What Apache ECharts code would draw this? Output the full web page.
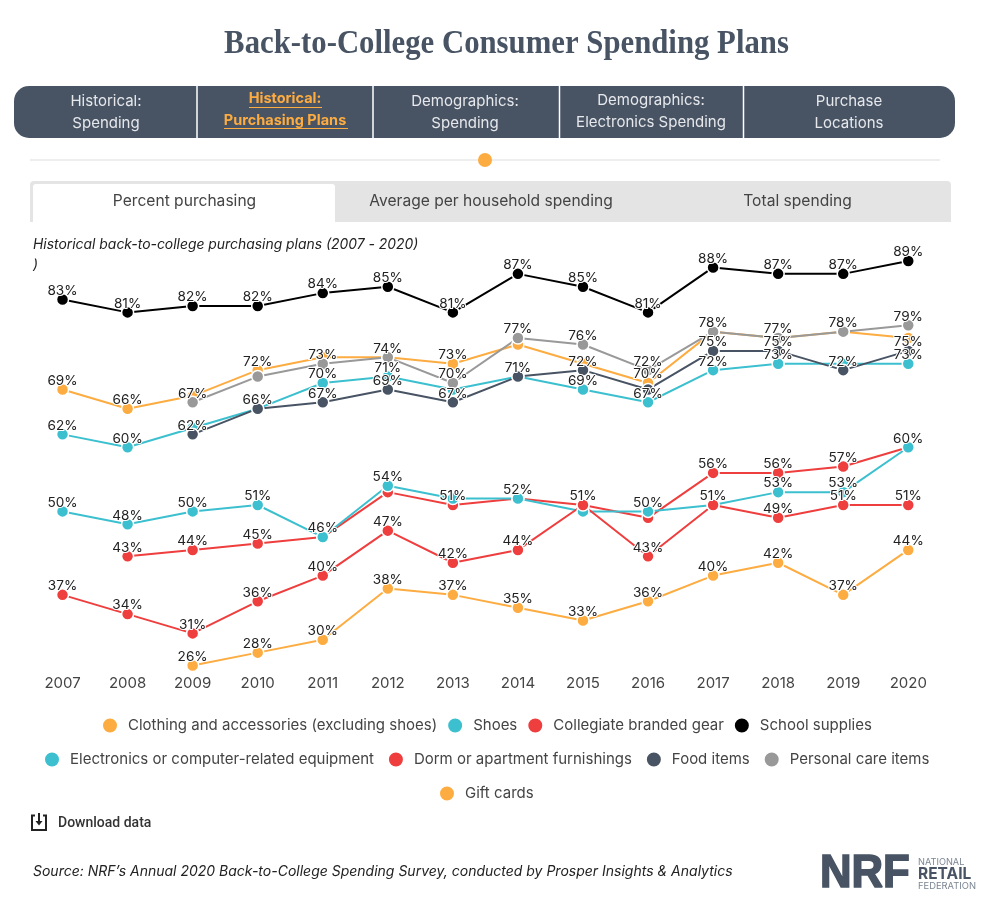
<!DOCTYPE html>
<html><head><meta charset="utf-8">
<style>html,body{margin:0;padding:0;background:#fff}#c{width:981px;height:900px}</style>
<script src="https://cdn.jsdelivr.net/npm/echarts@6/dist/echarts.min.js"></script>
</head><body><div id="c"></div>
<script>
const years = ['2007','2008','2009','2010','2011','2012','2013','2014','2015','2016','2017','2018','2019','2020'];
const clothing    = [69,66,68,72,74,74,73,76,73,70,78,77,78,77];
const shoes       = [62,60,63,66,70,71,69,71,69,67,72,73,73,73];
const collegiate  = [null,43,44,45,46,53,51,52,51,49,56,56,57,60];
const school      = [83,81,82,82,84,85,81,87,85,81,88,87,87,89];
const electronics = [50,48,50,51,46,54,52,52,50,50,51,53,53,60];
const dorm        = [37,34,31,36,40,47,42,44,51,43,51,49,51,51];
const food        = [null,null,62,66,67,69,67,71,72,69,75,75,72,75];
const personal    = [null,null,67,71,73,74,70,77,76,72,78,77,78,79];
const gift        = [null,null,26,28,30,38,37,35,33,36,40,42,37,44];
// years whose value label the reference suppresses because it collides with another
const hideClothing    = ['2009','2011','2012','2014','2015','2017','2018','2019','2020'];
const hideShoes       = ['2009','2010','2013','2014','2019'];
const hideCollegiate  = ['2011','2012','2014','2015','2016','2020'];
const hideElectronics = ['2013','2015','2017'];
const hideFood        = ['2016'];
const hidePersonal    = ['2010'];
const C = {orange:'#FDAC41',teal:'#3CC0CF',red:'#EF3E3E',black:'#000000',slate:'#485464',gray:'#999999'};
const F = 'Inter, "Open Sans", sans-serif';
const mk = (name,vals,color,hide=[]) => ({
  name,type:'line',color,symbol:'circle',symbolSize:12,showSymbol:true,animation:false,
  lineStyle:{color,width:2},itemStyle:{color,borderColor:'#fff',borderWidth:1.5},
  emphasis:{disabled:true},
  label:{show:true,position:'top',distance:2,offset:[0,7],formatter:'{c}%',fontFamily:F,fontSize:13.6,color:'#222',textBorderColor:'#fff',textBorderWidth:2},
  data:vals.map((v,i)=>({value:v,label:{show:v!==null&&!hide.includes(years[i])}}))
});
const series = [
  mk('Clothing and accessories (excluding shoes)',clothing,C.orange,hideClothing),
  mk('Shoes',shoes,C.teal,hideShoes),
  mk('Collegiate branded gear',collegiate,C.red,hideCollegiate),
  mk('School supplies',school,C.black),
  mk('Electronics or computer-related equipment',electronics,C.teal,hideElectronics),
  mk('Dorm or apartment furnishings',dorm,C.red),
  mk('Food items',food,C.slate,hideFood),
  mk('Personal care items',personal,C.gray,hidePersonal),
  mk('Gift cards',gift,C.orange)
];
const rows = [series.slice(0,4),series.slice(4,8),series.slice(8)];
const leg = (r,top,left,gap)=>({data:r.map(s=>s.name),top,left,icon:'circle',itemWidth:16,itemHeight:16,itemGap:gap,
  textStyle:{fontFamily:F,fontSize:15,color:'#444',padding:[0,0,0,5]},selectedMode:false,padding:0});
const T=(text,x,y,font,fill,align='center',extra={},sty={})=>({type:'text',x,y,silent:true,z:10,...extra,style:{text,x:0,y:0,font,fill,textAlign:align,textVerticalAlign:'middle',...sty}});
const R=(x,y,w,h,fill,r=0)=>({type:'rect',silent:true,z:1,shape:{x,y,width:w,height:h,r},style:{fill}});
const L=(x1,y1,x2,y2,stroke,lw)=>({type:'line',silent:true,z:5,shape:{x1,y1,x2,y2},style:{stroke,lineWidth:lw}});
const nav='15px '+F, tab='15.6px '+F, W='#e6e8ec';
const graphic=[
  T('Back-to-College Consumer Spending Plans',506.5,44,'bold 33px "Liberation Serif"',C.slate,'center',{scaleX:0.932}),
  R(14,86,941,52,C.slate,15),
  L(197,86,197,138,'#fff',1.5),L(373,86,373,138,'#fff',1.5),L(559.5,86,559.5,138,'#fff',1.5),L(743.5,86,743.5,138,'#fff',1.5),
  T('Historical:',106,101,nav,W),T('Spending',106,123,nav,W),
  T('Historical:',285,99,'bold 14.5px '+F,C.orange),T('Purchasing Plans',285,121,'bold 14.5px '+F,C.orange),
  L(249,107.5,322,107.5,C.orange,1.2),L(224,128.5,348,128.5,C.orange,1.2),
  T('Demographics:',465,101,nav,W),T('Spending',465,123,nav,W),
  T('Demographics:',651,100,nav,W),T('Electronics Spending',651,122,nav,W),
  T('Purchase',849,101,nav,W),T('Locations',849,123,nav,W),
  L(30,160,940,160,'#eeeeee',2),
  {type:'circle',silent:true,z:6,shape:{cx:485,cy:160,r:7},style:{fill:C.orange}},
  R(30,181,921,41,'#e4e4e4',[4,4,0,0]),
  R(33,184,302,38,'#ffffff',[3,3,0,0]),
  T('Percent purchasing',184.5,201,tab,'#444'),
  T('Average per household spending',491,201,tab,'#444'),
  T('Total spending',797.5,201,tab,'#444'),
  T('Historical back-to-college purchasing plans (2007 - 2020)',33,244.5,'italic 13.9px '+F,'#222','left'),
  T(')',33,265,'italic 13.9px '+F,'#222','left'),
  {type:'polyline',silent:true,z:6,shape:{points:[[35,815.5],[32,815.5],[32,830],[46,830],[46,815.5],[43,815.5]]},style:{fill:'none',stroke:'#222',lineWidth:2}},
  L(39,813,39,822,'#222',2),
  {type:'polygon',silent:true,z:6,shape:{points:[[35.5,821],[42.5,821],[39,825.5]]},style:{fill:'#222'}},
  T('Download data',58,823,'500 14px Roboto','#333','left'),
  T('Source: NRF\u2019s Annual 2020 Back-to-College Spending Survey, conducted by Prosper Insights & Analytics',33,872,'italic 14px '+F,'#222','left'),
  T('NRF',820,874,'bold 46px "Liberation Sans"',C.slate,'left',{scaleX:0.95},{stroke:C.slate,lineWidth:1.6}),
  T('NATIONAL',918,862,'9.2px '+F,'#7c8794','left'),
  T('RETAIL',918,874,'bold 15.5px '+F,C.slate,'left'),
  T('FEDERATION',918,886,'9.4px '+F,'#7c8794','left')
];
const chart=echarts.init(document.getElementById('c'),null,{renderer:'canvas',width:981,height:900});
chart.setOption({
  animation:false,backgroundColor:'#fff',
  grid:{left:30,top:222.5,width:910.8,height:449.4,containLabel:false},
  xAxis:{type:'category',data:years,boundaryGap:true,axisLine:{show:false},axisTick:{show:false},
    axisLabel:{margin:4,fontFamily:F,fontSize:15,color:'#444',interval:0}},
  yAxis:{type:'value',min:25,max:95,show:false,splitLine:{show:false}},
  legend:[leg(rows[0],716.5,101,9),leg(rows[1],750.5,43,13),leg(rows[2],784.5,438,11)],
  tooltip:{show:false},
  series,graphic
});
</script></body></html>
